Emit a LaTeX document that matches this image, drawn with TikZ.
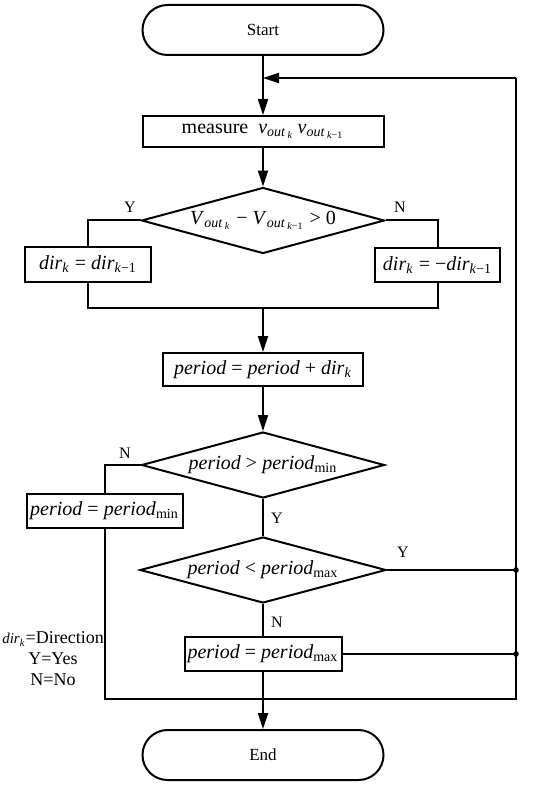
\documentclass[tikz,border=0pt]{standalone}
\usepackage{fontspec}
\setmainfont{Liberation Serif}
\usetikzlibrary{arrows.meta,shapes.geometric}
\newcommand{\ita}[1]{\textit{#1}}
\newcommand{\lo}[1]{\textsubscript{#1}}

\begin{document}
\begin{tikzpicture}[x=0.5pt,y=-0.5pt,line width=1pt,>={Triangle[length=8pt,width=5pt]},
  term/.style={draw,rectangle,rounded corners=12.5pt,minimum width=120.5pt,minimum height=25pt,font=\fontsize{8.5}{9}\selectfont},
  box/.style={draw,rectangle,inner sep=1pt,font=\fontsize{10}{12}\selectfont},
  dec/.style={draw,diamond,inner sep=0pt,shape aspect=3.6,minimum width=121.5pt,minimum height=33pt,font=\fontsize{10}{12}\selectfont},
  yn/.style={font=\fontsize{8}{9}\selectfont}]
\useasboundingbox (0,0) rectangle (550,786);

\node[term] (start) at (263,30) {Start};
\node[box,minimum width=120.5pt,minimum height=15.5pt] (meas) at (263,131.5) {measure\ \ \ita{v}\lo{\ita{out}\,\lo{\ita{k}}}\,\ita{v}\lo{\ita{out}\,\lo{\ita{k}−1}}};
\node[dec] (dec1) at (263,220.5) {\ita{V}\lo{\ita{out}\,\lo{\ita{k}}} − \ita{V}\lo{\ita{out}\,\lo{\ita{k}−1}} > 0};
\node[box,minimum width=63pt,minimum height=17.5pt] (diry) at (88,264.5) {\ita{dir}\lo{\ita{k}} = \ita{dir}\lo{\ita{k}−1}};
\node[box,minimum width=62.5pt,minimum height=17pt] (dirn) at (437.5,265) {\ita{dir}\lo{\ita{k}} = −\ita{dir}\lo{\ita{k}−1}};
\node[box,minimum width=100pt,minimum height=16.5pt] (per) at (263,369.5) {\ita{period} = \ita{period} + \ita{dir}\lo{\ita{k}}};
\node[dec] (dec2) at (263,465) {\ita{period} > \ita{period}\lo{min}};
\node[box,minimum width=78pt,minimum height=17pt] (pmin) at (104.5,511) {\ita{period} = \ita{period}\lo{min}};
\node[dec,minimum width=123pt] (dec3) at (263,570) {\ita{period} < \ita{period}\lo{max}};
\node[box,minimum width=78.5pt,minimum height=17pt] (pmax) at (263,654) {\ita{period} = \ita{period}\lo{max}};
\node[term] (end) at (263,755) {End};

\coordinate (loop) at (263,78);
\coordinate (rt) at (516,78);
\coordinate (rb) at (516,699);
\coordinate (lb) at (104.5,699);
\coordinate (join) at (263,308);

\draw[->] (start) -- (meas);
\draw[->] (rt) -- (loop);
\draw[->] (meas) -- (dec1);
\draw (dec1.west) -| (diry.north);
\draw (dec1.east) -| (dirn.north);
\draw (diry.south) |- (join) -| (dirn.south);
\draw[->] (join) -- (per);
\draw[->] (per) -- (dec2);
\draw (dec2.west) -| (pmin.north);
\draw (pmin.south) -- (lb) -- (rb) -- (rt);
\draw (dec2) -- (dec3);
\draw (dec3.east) -- (dec3.east -| rb);
\draw (dec3) -- (pmax);
\draw (pmax.east) -- (pmax.east -| rb);
\draw[->] (pmax) -- (end);
\fill (dec3.east -| rb) circle (1.4pt);
\fill (pmax.east -| rb) circle (1.4pt);

\node[yn] (y1) at (130,207) {Y};
\node[yn] (n1) at (400,207) {N};
\node[yn] (n2) at (125,453) {N};
\node[yn] (y2) at (277,518) {Y};
\node[yn] (y3) at (403,552) {Y};
\node[yn] (n3) at (277,622) {N};
\node[align=center,inner sep=0pt,font=\fontsize{9}{10.5}\selectfont] (legend) at (53,659) {{\fontsize{7.5}{8}\selectfont\ita{dir}\lo{\ita{k}}}=Direction\\Y=Yes\\N=No};
\end{tikzpicture}
\end{document}
